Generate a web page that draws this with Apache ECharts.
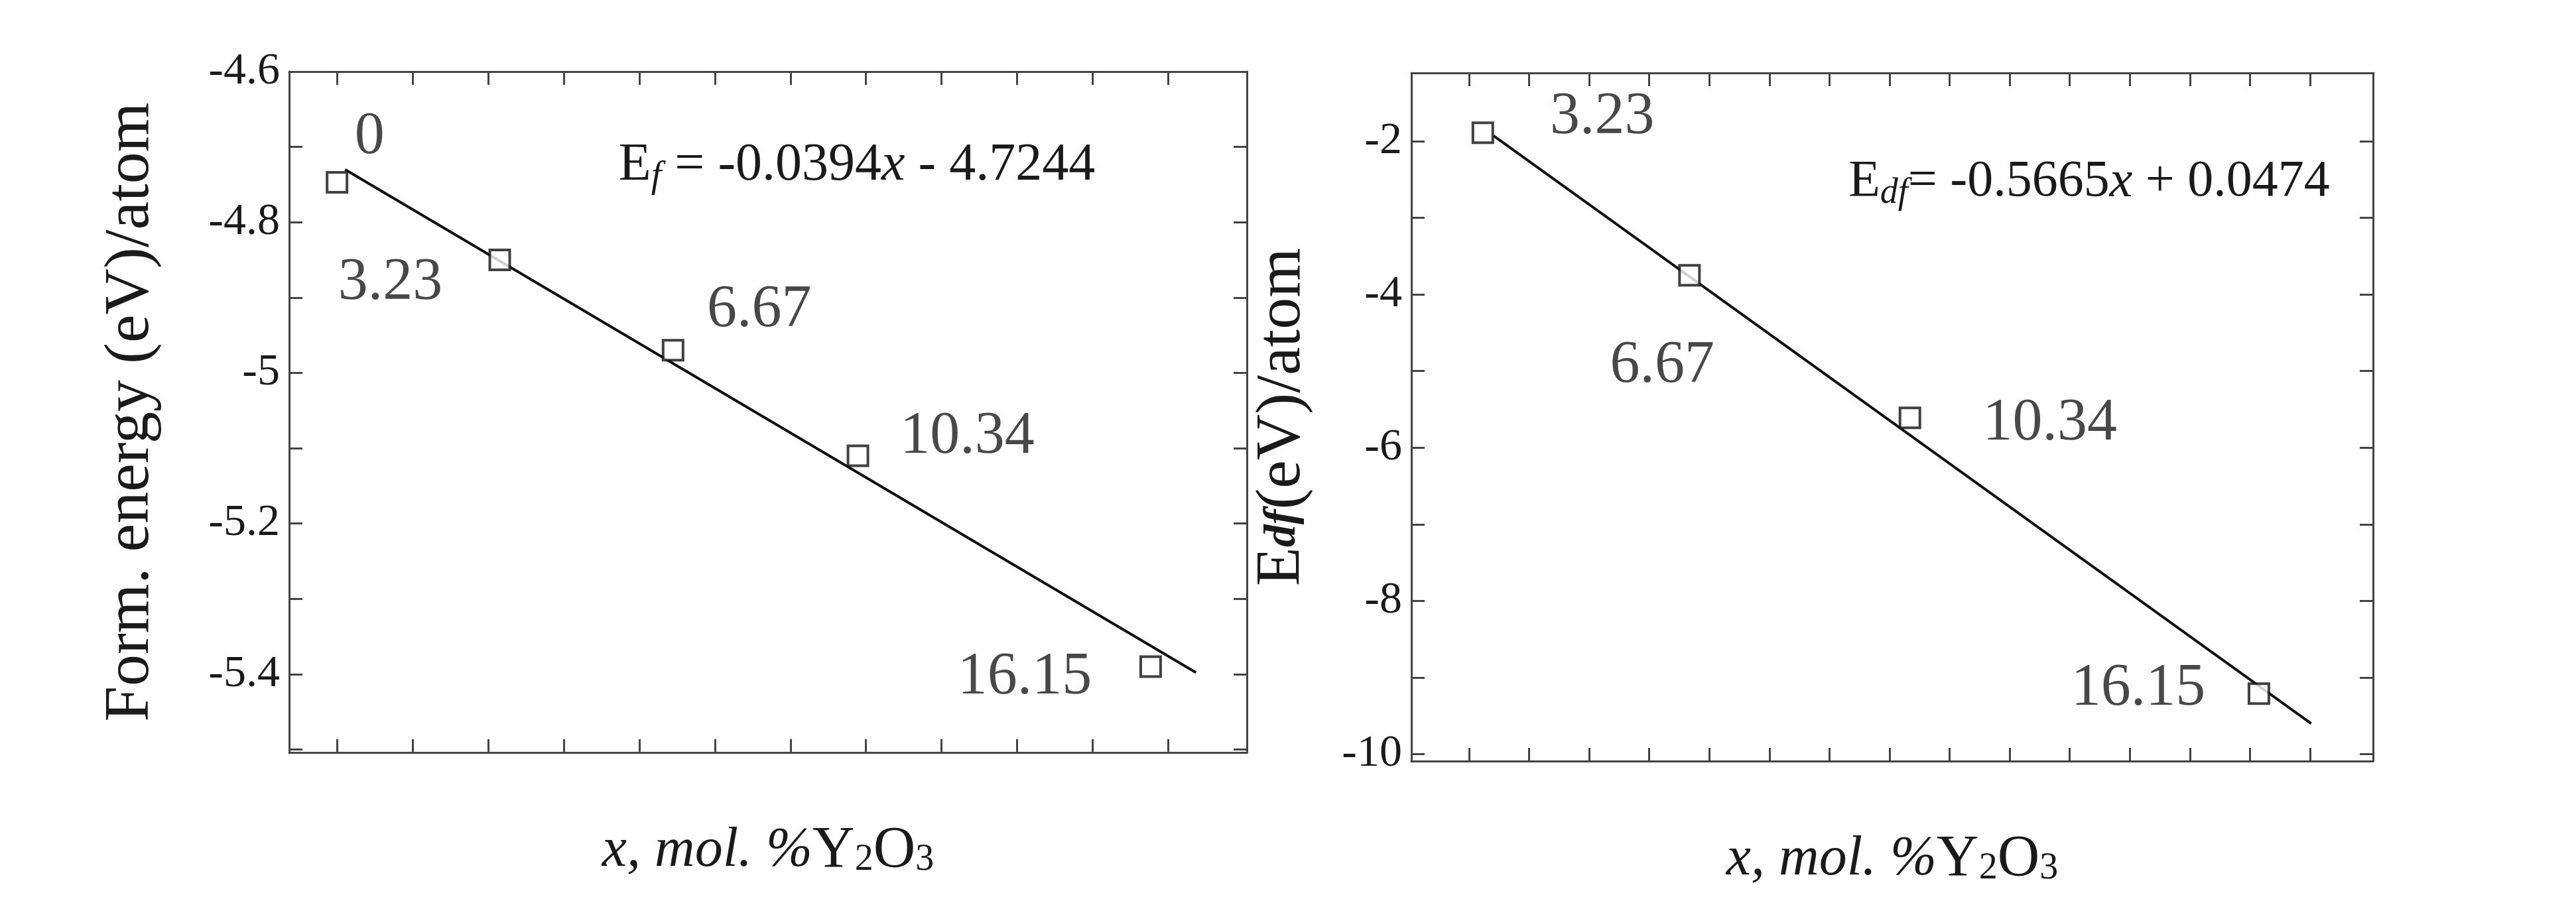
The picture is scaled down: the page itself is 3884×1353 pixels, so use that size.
<!DOCTYPE html>
<html><head><meta charset="utf-8">
<script src="https://cdn.jsdelivr.net/npm/echarts@6/dist/echarts.min.js"></script>
<style>html,body{margin:0;padding:0;background:#fff}#c{width:3884px;height:1353px}</style>
</head><body><div id="c"></div>
<script>
// Left chart data
const leftX = [0, 3.23, 6.67, 10.34, 16.15];
const leftY = [-4.747, -4.85, -4.97, -5.11, -5.39];
const leftLabels = ['0', '3.23', '6.67', '10.34', '16.15'];
const leftFitX = [0.16, 17.05];
const leftFitY = [-4.73, -5.398];
const leftXTicks = [0, 1.5, 3, 4.5, 6, 7.5, 9, 10.5, 12, 13.5, 15, 16.5];
const leftYTicks = [-5.5, -5.4, -5.3, -5.2, -5.1, -5.0, -4.9, -4.8, -4.7, -4.6];
const leftYLabels = [-5.4, -5.2, -5, -4.8, -4.6];
// Right chart data
const rightX = [3.23, 6.67, 10.34, 16.15];
const rightY = [-1.89, -3.75, -5.61, -9.21];
const rightLabels = ['3.23', '6.67', '10.34', '16.15'];
const rightFitX = [3.41, 17.02];
const rightFitY = [-1.93, -9.60];
const rightXTicks = [3,4,5,6,7,8,9,10,11,12,13,14,15,16,17];
const rightYTicks = [-10,-9,-8,-7,-6,-5,-4,-3,-2];
const rightYLabels = [-10,-8,-6,-4,-2];

const leftOffsets = [[49,-68],[-165,35],[130,-60],[165,-28],[-190,17]];
const rightOffsets = [[180,-23],[-41,137],[211,9],[-182,-7]];

const FONT = "'Liberation Serif', 'Times New Roman', serif";
const axisCol = '#444';
const tc = '#1a1a1a';
function xAx(grid, min, max, ticks, pos, name) {
  return {type:'value', gridIndex:grid, min, max, position:pos,
    axisLine:{show:true, onZero:false, lineStyle:{color:axisCol, width:3}},
    axisTick:{show:true, inside:true, length:20, customValues:ticks, lineStyle:{color:axisCol, width:3}},
    axisLabel:{show:false}, splitLine:{show:false},
    name: name||'', nameLocation:'middle', nameGap:105,
    nameTextStyle:{fontFamily:FONT, fontSize:84, color:tc,
      rich:{i:{fontFamily:FONT, fontStyle:'italic', fontSize:84, color:tc},
            b:{fontFamily:FONT, fontSize:88, color:tc},
            s:{fontFamily:FONT, fontSize:56, color:tc, padding:[26,0,0,0]}}}};
}
function yAx(grid, min, max, ticks, labels, pos, show, name, gap) {
  return {type:'value', gridIndex:grid, min, max, position:pos,
    axisLine:{show:true, onZero:false, lineStyle:{color:axisCol, width:3}},
    axisTick:{show:true, inside:true, length:20, customValues:ticks, lineStyle:{color:axisCol, width:3}},
    axisLabel:{show:show, customValues:labels, fontFamily:FONT, fontSize:68, color:tc, margin:14},
    splitLine:{show:false},
    name: name||'', nameLocation:'middle', nameGap:gap||0, nameRotate:90,
    nameTextStyle:{fontFamily:FONT, fontSize:96, color:tc,
      rich:{n:{fontFamily:FONT, fontSize:96, color:tc},
            df:{fontFamily:FONT, fontSize:68, fontStyle:'italic', fontWeight:'bold', color:tc, padding:[0,0,0,0]}}}};
}
const xTitle = '{i|x}{i|, mol. %}{b|Y}{s|2}{b|O}{s|3}';
function scatter(xi, yi, xs, ys, labs, offs) {
  return {type:'scatter', xAxisIndex:xi, yAxisIndex:yi, symbol:'rect', symbolSize:30,
    itemStyle:{color:'#fff', borderColor:'#111', borderWidth:4}, z:5,
    data: xs.map((x,i)=>({value:[x, ys[i]],
      label:{show:true, position:'inside', offset:offs[i], formatter:labs[i],
        fontFamily:FONT, fontSize:90, color:tc}}))};
}
function fit(xi, yi, xs, ys) {
  return {type:'line', xAxisIndex:xi, yAxisIndex:yi, symbol:'none',
    lineStyle:{color:'#111', width:4}, data: xs.map((x,i)=>[x, ys[i]]), z:3};
}
const chart = echarts.init(document.getElementById('c'));
chart.setOption({
  backgroundColor:'#fff', animation:false,
  grid:[{left:436, top:108, width:1444, height:1027},
        {left:2128, top:110, width:1450, height:1038}],
  xAxis:[xAx(0,-0.95,18.06,leftXTicks,'bottom',xTitle), xAx(0,-0.95,18.06,leftXTicks,'top'),
         xAx(1,2.04,18.05,rightXTicks,'bottom',xTitle), xAx(1,2.04,18.05,rightXTicks,'top')],
  yAxis:[yAx(0,-5.504,-4.6,leftYTicks,leftYLabels,'left',true,'{n|Form. energy (eV)/atom}',190),
         yAx(0,-5.504,-4.6,leftYTicks,leftYLabels,'right',false),
         yAx(1,-10.09,-1.11,rightYTicks,rightYLabels,'left',true,'{n|E}{df|df}{n|(eV)/atom}',146),
         yAx(1,-10.09,-1.11,rightYTicks,rightYLabels,'right',false)],
  series:[fit(0,0,leftFitX,leftFitY), scatter(0,0,leftX,leftY,leftLabels,leftOffsets),
          fit(2,2,rightFitX,rightFitY), scatter(2,2,rightX,rightY,rightLabels,rightOffsets)],
  graphic:[
    {type:'text', x:1292, y:250, z:10, style:{text:'{e|E}{f|f}{e| = -0.0394}{i|x}{e| - 4.7244}', align:'center', verticalAlign:'middle',
      rich:{e:{fontFamily:FONT,fontSize:80,fill:tc}, i:{fontFamily:FONT,fontSize:80,fontStyle:'italic',fill:tc},
            f:{fontFamily:FONT,fontSize:56,fontStyle:'italic',fill:tc,padding:[34,0,0,0]}}}},
    {type:'text', x:3150, y:275, z:10, style:{text:'{e|E}{f|df}{e|= -0.5665}{i|x}{e| + 0.0474}', align:'center', verticalAlign:'middle',
      rich:{e:{fontFamily:FONT,fontSize:78,fill:tc}, i:{fontFamily:FONT,fontSize:78,fontStyle:'italic',fill:tc},
            f:{fontFamily:FONT,fontSize:54,fontStyle:'italic',fill:tc,padding:[34,0,0,0]}}}}
  ]
});
</script></body></html>
